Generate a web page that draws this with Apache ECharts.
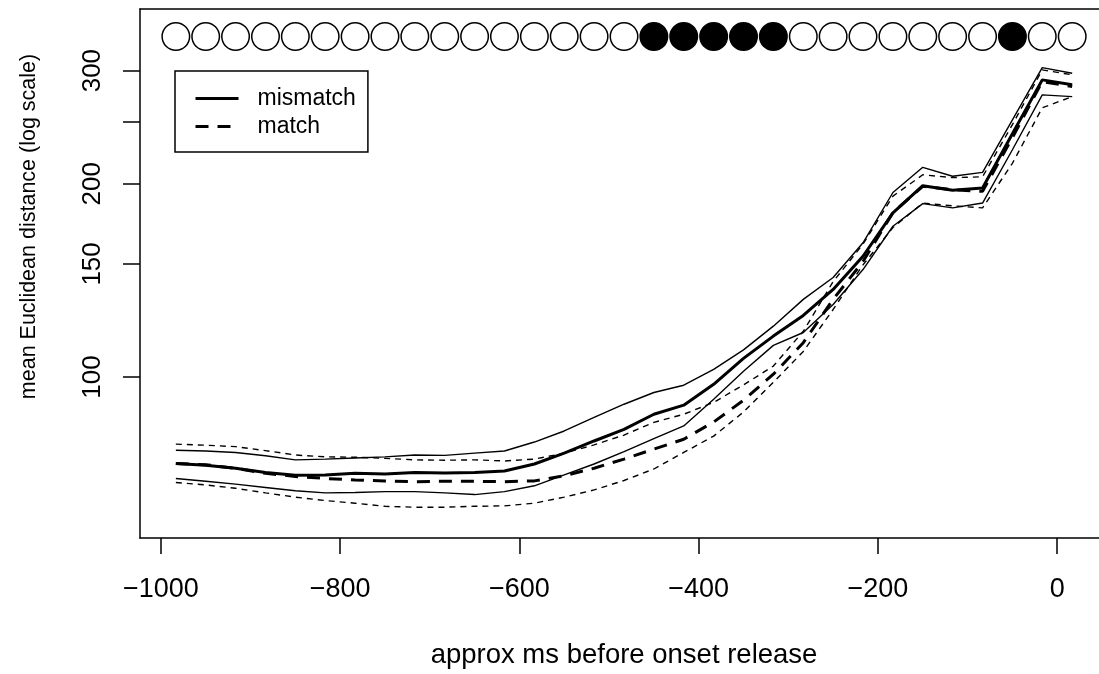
<!DOCTYPE html>
<html>
<head>
<meta charset="utf-8">
<script src="https://cdn.jsdelivr.net/npm/echarts@6/dist/echarts.min.js"></script>
<style>
  html, body { margin: 0; padding: 0; background: #fff; }
  #main { width: 1099px; height: 674px; }
</style>
</head>
<body>
<div id="main"></div>
<script>
var FONT = '"Liberation Sans", Arial, Helvetica, sans-serif';

// time points (approx ms before onset release)
var msVals = [-983.3, -950, -916.7, -883.3, -850, -816.7, -783.3, -750, -716.7, -683.3,
  -650, -616.7, -583.3, -550, -516.7, -483.3, -450, -416.7, -383.3, -350,
  -316.7, -283.3, -250, -216.7, -183.3, -150, -116.7, -83.3, -50, -16.7, 16.7];

// mismatch: mean and interval bounds
var mismatchMean = [73.3, 72.9, 72.1, 71.0, 70.3, 70.4, 70.8, 70.6, 71.0, 70.9,
  71.0, 71.4, 73.2, 76.1, 79.5, 82.9, 87.5, 90.4, 97.4, 106.9,
  115.8, 124.7, 136.9, 154.2, 180.1, 198.6, 195.3, 197.0, 239.2, 290.2, 285.1];
var mismatchHi = [76.9, 76.7, 76.3, 75.4, 74.3, 74.5, 74.8, 75.1, 75.6, 75.5,
  76.1, 76.7, 79.2, 82.4, 86.5, 90.7, 94.6, 97.1, 102.8, 110.2,
  120.0, 132.1, 142.9, 161.8, 193.8, 212.1, 205.4, 208.3, 251.5, 303.3, 297.2];
var mismatchLo = [69.5, 68.8, 68.1, 67.3, 66.5, 66.0, 66.1, 66.3, 66.3, 66.0,
  65.6, 66.3, 67.7, 70.4, 73.2, 76.5, 80.2, 83.9, 92.3, 102.1,
  112.0, 117.3, 129.7, 147.0, 171.7, 186.2, 183.4, 186.6, 225.9, 275.0, 273.3];

// match: mean and interval bounds
var matchMean = [73.3, 73.0, 72.1, 70.8, 70.0, 69.5, 69.1, 68.9, 68.7, 68.8,
  68.8, 68.7, 68.9, 70.2, 72.1, 74.5, 77.2, 80.0, 85.1, 92.0,
  101.0, 113.1, 132.1, 151.3, 180.3, 198.1, 195.8, 194.6, 236.0, 288.5, 283.4];
var matchHi = [78.6, 78.3, 77.9, 76.8, 75.6, 75.1, 75.0, 74.7, 74.3, 74.2,
  74.3, 74.0, 74.5, 76.1, 78.4, 81.2, 85.0, 87.5, 91.3, 97.2,
  104.0, 117.8, 140.8, 161.0, 191.3, 206.5, 204.4, 205.0, 247.2, 300.8, 295.5];
var matchLo = [68.5, 67.9, 67.1, 66.0, 65.0, 64.2, 63.6, 62.9, 62.7, 62.7,
  62.9, 63.0, 63.6, 65.0, 66.7, 69.0, 71.9, 76.3, 80.9, 88.2,
  98.1, 109.6, 127.4, 149.5, 170.9, 186.6, 184.7, 183.4, 215.2, 262.6, 273.3];

// significance markers along the top (1 = filled)
var significant = [0, 0, 0, 0, 0, 0, 0, 0, 0, 0, 0, 0, 0, 0, 0, 0,
  1, 1, 1, 1, 1, 0, 0, 0, 0, 0, 0, 0, 1, 0, 0];
var markerLevel = 339;

var xTicks = [-1000, -800, -600, -400, -200, 0];
var yTicks = [100, 150, 200, 250, 300];
var yLabels = [100, 150, 200, 300];

var X_MIN = -1023.3, X_MAX = 46.6;

function pairs(ys) {
  return msVals.map(function (x, i) { return [x, ys[i]]; });
}

function lineSeries(name, ys, width, dash) {
  return {
    name: name,
    type: 'line',
    data: pairs(ys),
    symbol: 'none',
    silent: true,
    lineStyle: { color: '#000', width: width, type: dash ? dash : 'solid' },
    itemStyle: { color: '#000' }
  };
}

var chart = echarts.init(document.getElementById('main'), null, { renderer: 'canvas' });

var option = {
  animation: false,
  backgroundColor: '#fff',
  textStyle: { fontFamily: FONT, color: '#000' },
  grid: { left: 140, top: 9, width: 959, height: 530, show: false },
  xAxis: [{
    type: 'value',
    min: X_MIN,
    max: X_MAX,
    splitLine: { show: false },
    axisLine: { onZero: false, lineStyle: { color: '#000', width: 1.5 } },
    axisTick: { customValues: xTicks, length: 16, lineStyle: { color: '#000', width: 1.5 } },
    axisLabel: {
      customValues: xTicks,
      margin: 38,
      fontSize: 27,
      color: '#000',
      fontFamily: FONT,
      formatter: function (v) { return v < 0 ? '\u2212' + Math.abs(v) : String(v); }
    },
    name: 'approx ms before onset release',
    nameLocation: 'middle',
    nameGap: 103,
    nameTextStyle: { fontSize: 27.5, color: '#000', fontFamily: FONT, padding: [0, 0, 0, 9] }
  }, {
    // top edge of the box
    type: 'value',
    position: 'top',
    min: X_MIN,
    max: X_MAX,
    splitLine: { show: false },
    axisLine: { onZero: false, lineStyle: { color: '#000', width: 1.5 } },
    axisTick: { show: false },
    axisLabel: { show: false }
  }],
  yAxis: {
    type: 'log',
    logBase: 10,
    min: 56.14,
    max: 374.2,
    splitLine: { show: false },
    minorTick: { show: false },
    axisLine: { onZero: false, lineStyle: { color: '#000', width: 1.5 } },
    axisTick: { customValues: yTicks, length: 17, lineStyle: { color: '#000', width: 1.5 } },
    axisLabel: {
      customValues: yLabels,
      rotate: 90,
      margin: 34,
      fontSize: 26,
      color: '#000',
      fontFamily: FONT
    }
  },
  legend: {
    left: 175,
    top: 71,
    orient: 'vertical',
    data: ['mismatch', 'match'],
    selectedMode: false,
    itemWidth: 43,
    itemHeight: 14,
    itemGap: 5,
    padding: [16, 12, 14, 19],
    borderColor: '#000',
    borderWidth: 1.5,
    lineStyle: { width: 3 },
    itemStyle: { opacity: 0, borderWidth: 0 },
    textStyle: { fontSize: 23, color: '#000', fontFamily: FONT, padding: [0, 0, 0, 14] }
  },
  graphic: [{
    type: 'text',
    x: 29,
    y: 226.5,
    rotation: Math.PI / 2,
    style: {
      text: 'mean Euclidean distance (log scale)',
      fontSize: 21.5,
      fontFamily: FONT,
      fill: '#000',
      align: 'center',
      verticalAlign: 'middle'
    }
  }],
  series: [
    lineSeries('mismatchHi', mismatchHi, 1.4),
    lineSeries('mismatchLo', mismatchLo, 1.4),
    lineSeries('matchHi', matchHi, 1.4, [6, 5]),
    lineSeries('matchLo', matchLo, 1.4, [6, 5]),
    lineSeries('mismatch', mismatchMean, 3),
    lineSeries('match', matchMean, 3, [13, 9]),
    {
      name: 'significance',
      type: 'scatter',
      silent: true,
      symbol: 'circle',
      symbolSize: 27.5,
      data: msVals.map(function (x, i) {
        return {
          value: [x, markerLevel],
          itemStyle: {
            color: significant[i] ? '#000' : '#fff',
            borderColor: '#000',
            borderWidth: 1.5,
            opacity: 1
          }
        };
      })
    }
  ]
};

chart.setOption(option);
</script>
</body>
</html>
